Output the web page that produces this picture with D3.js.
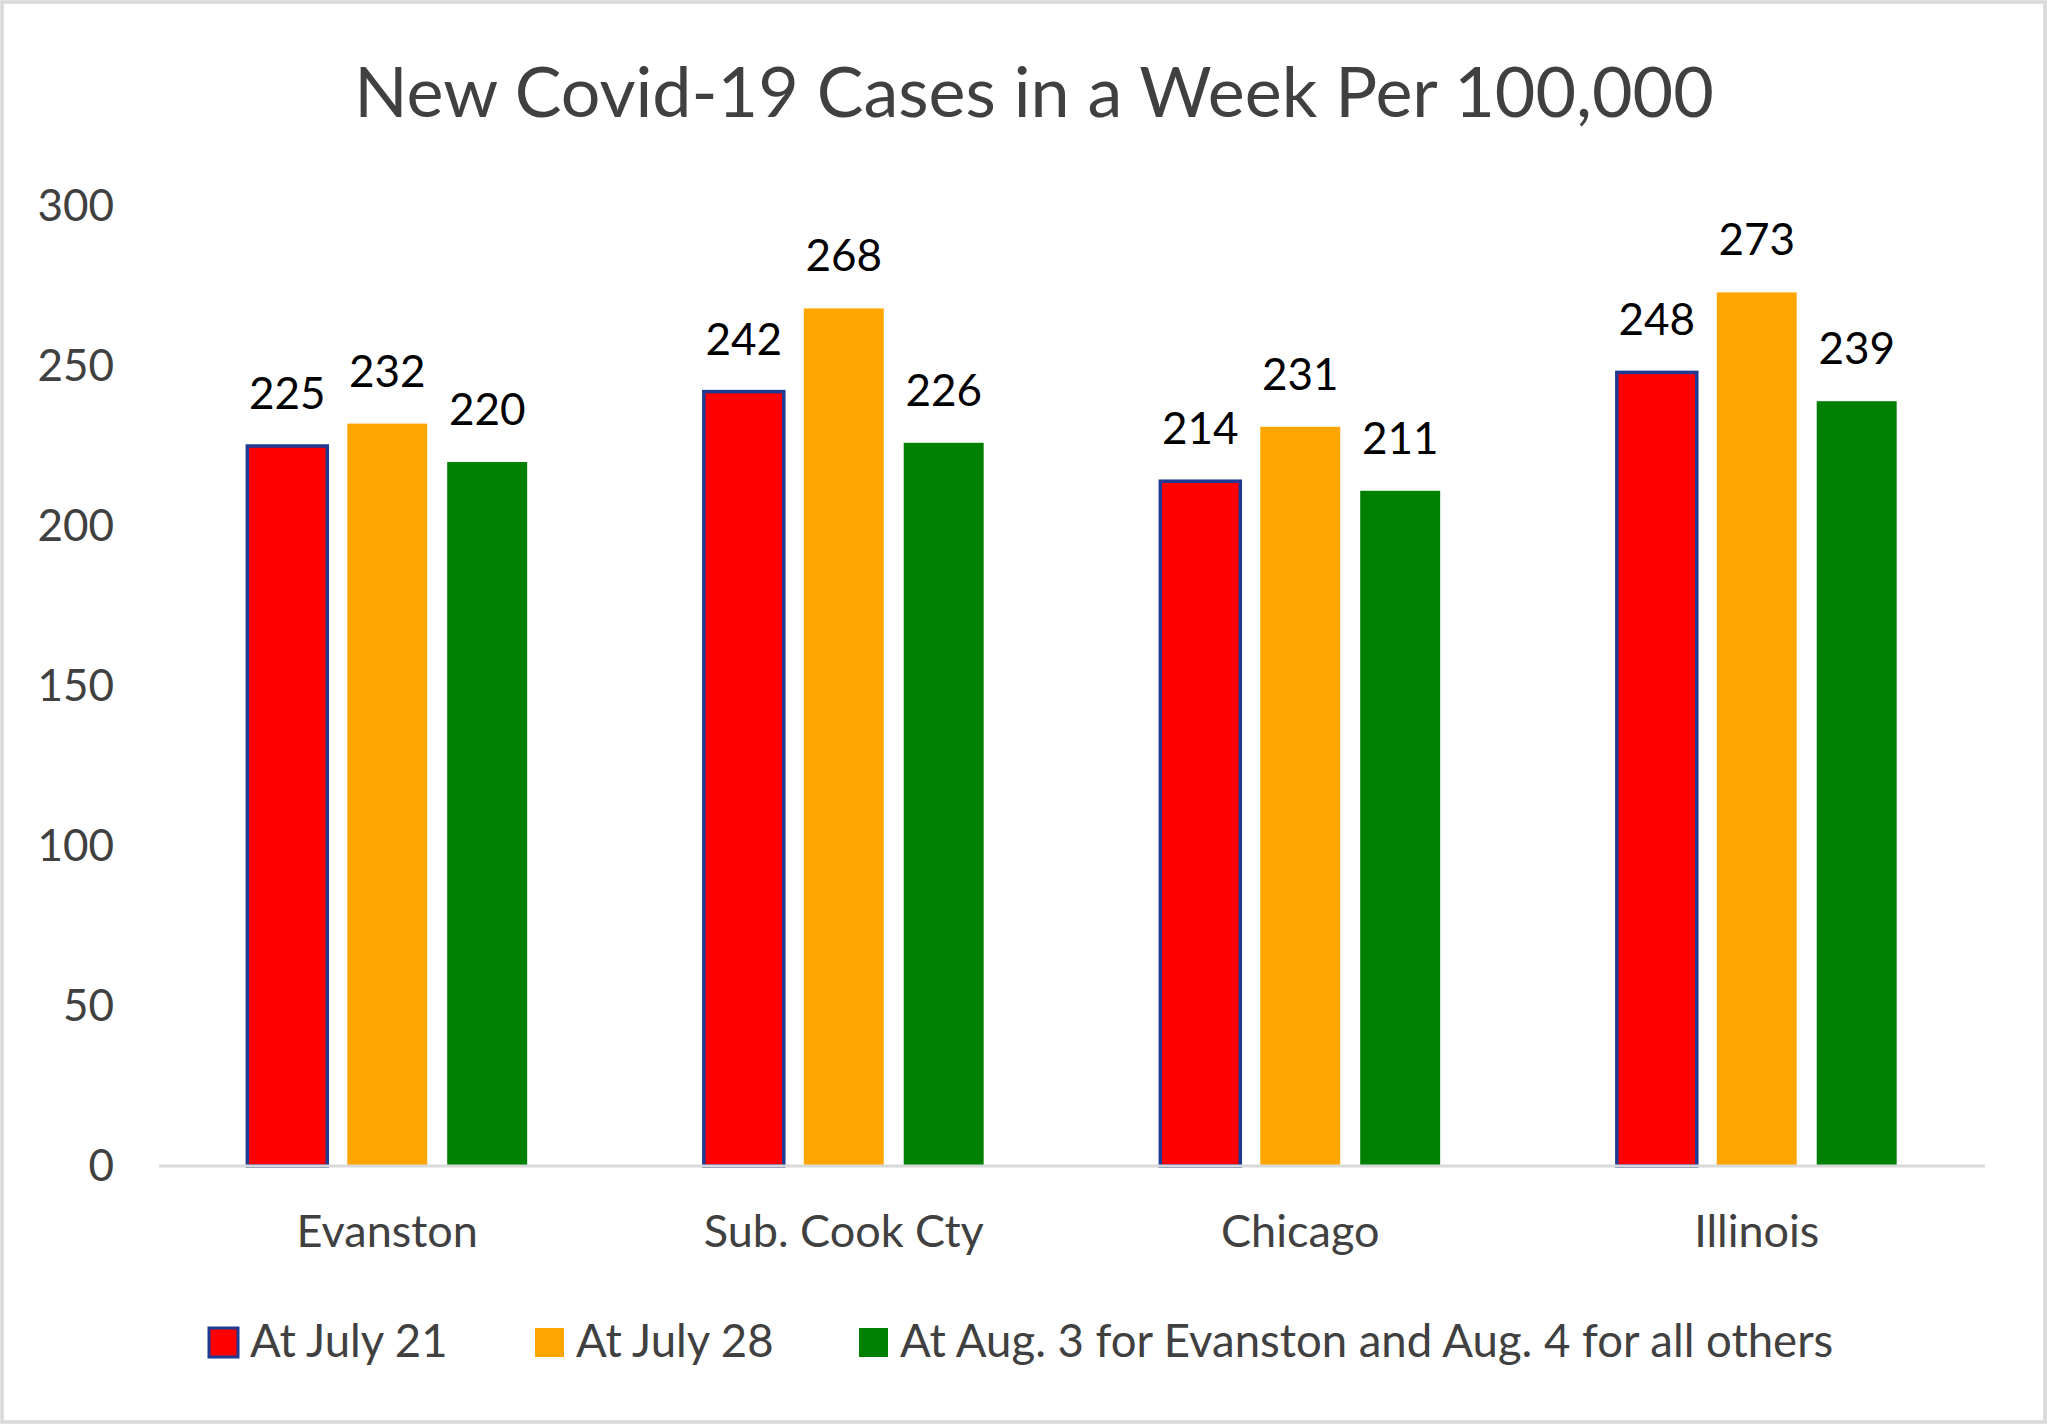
<!DOCTYPE html>
<html>
<head>
<meta charset="utf-8">
<script src="https://cdn.jsdelivr.net/npm/d3@7"></script>
<style>
  html, body { margin: 0; padding: 0; background: #fff; }
  svg { display: block; }
  text { font-family: Lato, "Open Sans", sans-serif; }
</style>
</head>
<body>
<svg id="chart"></svg>
<script>
// data
var categories = ["Evanston", "Sub. Cook Cty", "Chicago", "Illinois"];
var seriesNames = ["At July 21", "At July 28", "At Aug. 3 for Evanston and Aug. 4 for all others"];
var july21 = [225, 242, 214, 248];
var july28 = [232, 268, 231, 273];
var aug3 = [220, 226, 211, 239];
var yTicks = [0, 50, 100, 150, 200, 250, 300];

var seriesValues = [july21, july28, aug3];
var colors = ["#ff0000", "#ffa500", "#008000"];

var W = 2048, H = 1425;
var svg = d3.select("#chart").attr("width", W).attr("height", H);

// outer chart border
svg.append("rect")
    .attr("x", 2).attr("y", 2)
    .attr("width", W - 5).attr("height", H - 5)
    .attr("fill", "#fff")
    .attr("stroke", "#d9d9d9")
    .attr("stroke-width", 3.5);

var plot = { left: 159, right: 1985, top: 206, bottom: 1166 };

var y = d3.scaleLinear().domain([0, 300]).range([plot.bottom, plot.top]);

var x0 = d3.scaleBand()
    .domain(categories)
    .range([plot.left, plot.right])
    .paddingInner(0.387)
    .paddingOuter(0.1935);

var x1 = d3.scaleBand()
    .domain(d3.range(seriesNames.length))
    .range([0, x0.bandwidth()])
    .paddingInner(0.2);

// rows for the grouped bars
var rows = [];
categories.forEach(function(c, i) {
    seriesValues.forEach(function(vals, s) {
        rows.push({ cat: c, s: s, v: vals[i] });
    });
});

// title
svg.append("text")
    .attr("x", 1034).attr("y", 117)
    .attr("text-anchor", "middle")
    .attr("font-size", 70)
    .attr("fill", "#404040")
    .text("New Covid-19 Cases in a Week Per 100,000");

// y axis labels, no line and no ticks
var yAxis = d3.axisLeft(y).tickValues(yTicks).tickSize(0).tickPadding(0);
var gy = svg.append("g")
    .attr("transform", "translate(114,0)")
    .call(yAxis);
gy.select(".domain").remove();
gy.selectAll("text")
    .attr("font-family", "Lato, sans-serif")
    .attr("font-size", 44)
    .attr("fill", "#404040");

// bars
svg.append("g").selectAll("rect")
    .data(rows)
    .join("rect")
    .attr("x", function(d) { return x0(d.cat) + x1(d.s); })
    .attr("y", function(d) { return y(d.v); })
    .attr("width", x1.bandwidth())
    .attr("height", function(d) { return y(0) - y(d.v); })
    .attr("fill", function(d) { return colors[d.s]; })
    .attr("stroke", function(d) { return d.s === 0 ? "#1f3a93" : "none"; })
    .attr("stroke-width", 3.5);

// value labels
svg.append("g").selectAll("text")
    .data(rows)
    .join("text")
    .attr("x", function(d) { return x0(d.cat) + x1(d.s) + x1.bandwidth() / 2; })
    .attr("y", function(d) { return y(d.v) - 37; })
    .attr("text-anchor", "middle")
    .attr("font-size", 44)
    .attr("fill", "#000")
    .text(function(d) { return d.v; });

// x axis: the grey base line and the category names
var xAxis = d3.axisBottom(x0).tickSize(0).tickPadding(0);
var gx = svg.append("g")
    .attr("transform", "translate(0," + plot.bottom + ")")
    .call(xAxis);
gx.select(".domain")
    .attr("d", "M" + plot.left + ",0H" + plot.right)
    .attr("stroke", "#d9d9d9")
    .attr("stroke-width", 3);
gx.selectAll("text")
    .attr("font-family", "Lato, sans-serif")
    .attr("font-size", 45)
    .attr("fill", "#404040")
    .attr("dy", null)
    .attr("y", 81);

// legend
var legendX = [209, 535, 859];
var legend = svg.append("g").selectAll("g")
    .data(seriesNames)
    .join("g")
    .attr("transform", function(d, i) { return "translate(" + legendX[i] + ",1328)"; });

legend.append("rect")
    .attr("width", 29).attr("height", 29)
    .attr("fill", function(d, i) { return colors[i]; })
    .attr("stroke", function(d, i) { return i === 0 ? "#1f3a93" : "none"; })
    .attr("stroke-width", 3);

legend.append("text")
    .attr("x", 41).attr("y", 29)
    .attr("font-size", 45.5)
    .attr("fill", "#404040")
    .text(function(d) { return d; });
</script>
</body>
</html>
